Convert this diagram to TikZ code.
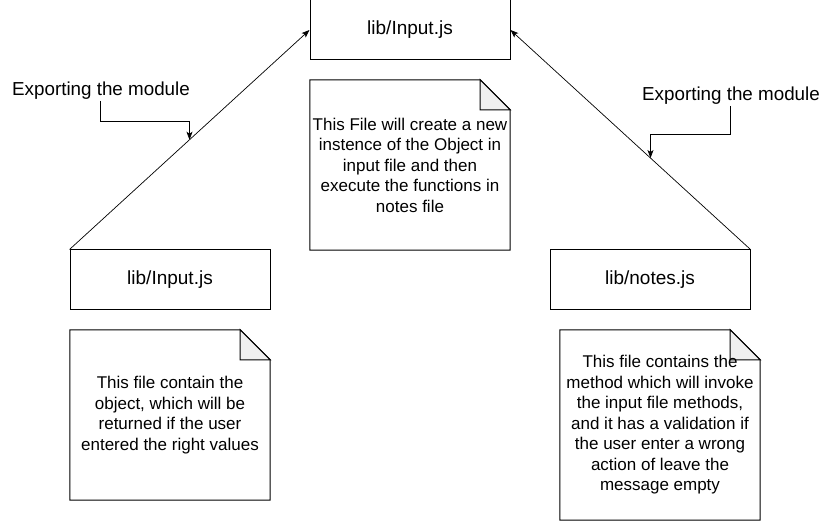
\documentclass[tikz,border=0pt]{standalone}
\usepackage{fontspec}
\setmainfont{Liberation Sans}
\usetikzlibrary{arrows, arrows.meta, backgrounds, calc}

\tikzset{
  jsfile/.style={draw,line width=1pt,minimum width=200pt,minimum height=60pt,inner sep=0pt,font=\fontsize{19}{22}\selectfont},
  notetext/.style={minimum width=200pt,inner sep=0pt,align=center,font=\fontsize{17}{20.5}\selectfont},
  exportlbl/.style={inner sep=1pt,font=\fontsize{18.8}{22}\selectfont},
  arr/.style={-{Stealth[length=8pt,width=6pt,inset=2pt]},line width=0.7pt},
}

\begin{document}
\begin{tikzpicture}[x=1pt,y=-1pt]
\useasboundingbox (0,0) rectangle (831,521);
%---------------------------------------------------
\node[jsfile] (top) at (410,30)  {lib/Input.js};
\node[jsfile] (inL) at (170,280) {lib/Input.js};
\node[jsfile] (notR) at (650,280) {lib/notes.js};
%---------------------------------------------------
\node[notetext,minimum height=170pt] (nC) at (410,165) {This File will create a new\\instence of the Object in\\input file and then\\execute the functions in\\notes file};
\node[notetext,minimum height=170pt] (nL) at (170,415) {This file contain the\\object, which will be\\returned if the user\\entered the right values};
\node[notetext,minimum height=190pt] (nR) at (660,425) {This file contains the\\method which will invoke\\the input file methods,\\and it has a validation if\\the user enter a wrong\\action of leave the\\message empty};
%---------------------------------------------------
\begin{scope}[on background layer]
\draw[line width=1pt] (nC.north west) -- ([xshift=-30pt]nC.north east) -- ([yshift=-30pt]nC.north east) -- (nC.south east) -- (nC.south west) -- cycle;
\draw[line width=1pt,fill=gray!12] ([xshift=-30pt]nC.north east) -- ([xshift=-30pt,yshift=-30pt]nC.north east) -- ([yshift=-30pt]nC.north east) -- cycle;
\draw[line width=1pt] (nL.north west) -- ([xshift=-30pt]nL.north east) -- ([yshift=-30pt]nL.north east) -- (nL.south east) -- (nL.south west) -- cycle;
\draw[line width=1pt,fill=gray!12] ([xshift=-30pt]nL.north east) -- ([xshift=-30pt,yshift=-30pt]nL.north east) -- ([yshift=-30pt]nL.north east) -- cycle;
\draw[line width=1pt] (nR.north west) -- ([xshift=-30pt]nR.north east) -- ([yshift=-30pt]nR.north east) -- (nR.south east) -- (nR.south west) -- cycle;
\draw[line width=1pt,fill=gray!12] ([xshift=-30pt]nR.north east) -- ([xshift=-30pt,yshift=-30pt]nR.north east) -- ([yshift=-30pt]nR.north east) -- cycle;
\end{scope}
%---------------------------------------------------
\draw[arr] (inL.north west) -- (top.west);
\draw[arr] (notR.north east) -- (top.east);
%---------------------------------------------------
\node[exportlbl] (expL) at (101,91) {Exporting the module};
\node[exportlbl] (expR) at (731,96) {Exporting the module};
\coordinate (onL) at ($(inL.north west)!0.5!(top.west)$);
\coordinate (onR) at ($(notR.north east)!0.4167!(top.east)$);
\draw[arr] ([xshift=-1pt]expL.south) -- ++(0,20) -| (onL);
\draw[arr] ([xshift=-1pt]expR.south) -- ++(0,28) -| (onR);

\end{tikzpicture}
\end{document}
